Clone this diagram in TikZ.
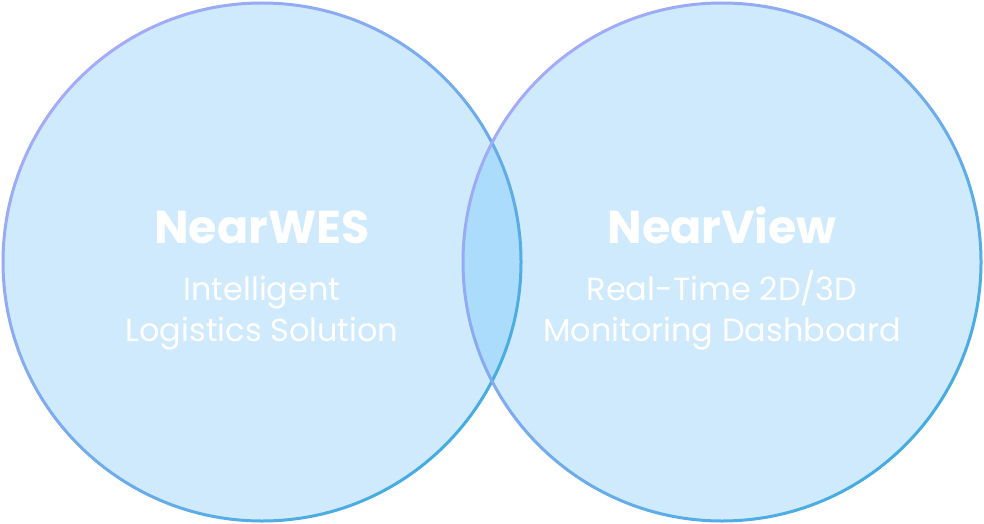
\documentclass[tikz,border=0pt]{standalone}
\usepackage{fontspec}
\setmainfont{Poppins}
\usetikzlibrary{shadings}
\definecolor{fillblue}{HTML}{CFEAFC}
\definecolor{lensblue}{HTML}{ACDCFC}
\definecolor{rimpurple}{HTML}{A4ABF8}
\definecolor{rimblue}{HTML}{45ACE2}
\tikzset{
  rim/.style={shading=axis, left color=rimpurple, right color=rimblue, even odd rule},
  titletext/.style={text=white, font=\fontsize{46}{52}\selectfont\bfseries, anchor=base},
  subtext/.style={text=white, font=\fontsize{32}{41}\selectfont, anchor=base, align=center},
}
\begin{document}
\begin{tikzpicture}[x=1pt,y=-1pt]
\useasboundingbox (0,0) rectangle (984,524);
\coordinate (cl) at (262,262);
\coordinate (cr) at (722,262);
\fill[fillblue] (cl) circle (259);
\fill[fillblue] (cr) circle (259);
\begin{scope}
  \clip (cl) circle (259);
  \fill[lensblue] (cr) circle (259);
\end{scope}
\shade[rim, shading angle=45] (cl) circle (260.5) (cl) circle (257.5);
\shade[rim, shading angle=45] (cr) circle (260.5) (cr) circle (257.5);
\node[titletext] (t1) at (262,243) {NearWES};
\node[titletext] (t2) at (722,243) {NearView};
\node[subtext] (s1) at (262,300) {Intelligent};
\node[subtext] (s1b) at (262,341) {Logistics Solution};
\node[subtext] (s2) at (722,300) {Real-Time 2D/3D};
\node[subtext] (s2b) at (722,341) {Monitoring Dashboard};
\end{tikzpicture}
\end{document}
